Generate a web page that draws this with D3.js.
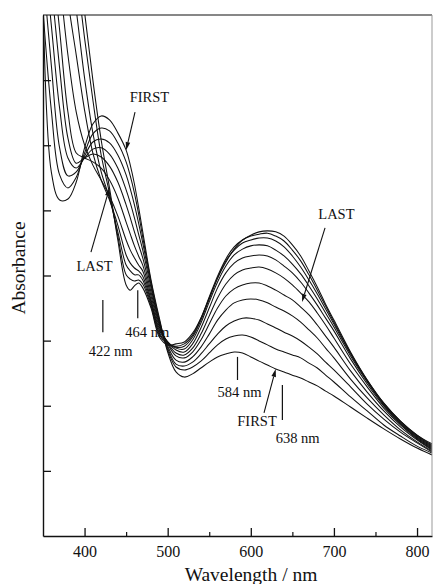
<!DOCTYPE html>
<html>
<head>
<meta charset="utf-8">
<script src="https://cdn.jsdelivr.net/npm/d3@7/dist/d3.min.js"></script>
<style>
  html, body { margin: 0; padding: 0; background: #fff; }
  svg { display: block; }
  text { font-family: "Liberation Serif", "Times New Roman", serif; fill: #111; }
</style>
</head>
<body>
<svg id="chart" width="433" height="584"></svg>
<script>
// Wavelength grid (nm) shared by every scan
const wavelengths = [350,360,370,380,390,400,410,420,430,440,450,455,460,465,470,480,490,500,510,520,530,540,550,560,570,580,590,600,610,620,630,640,650,660,670,680,690,700,720,740,760,780,800,818];

// Absorbance of successive scans, first to last
const scan1  = [1.650,1.118,1.032,1.035,1.087,1.192,1.265,1.290,1.278,1.238,1.185,1.139,1.081,1.010,0.934,0.786,0.669,0.565,0.504,0.488,0.498,0.516,0.534,0.550,0.559,0.565,0.562,0.550,0.537,0.525,0.513,0.504,0.494,0.485,0.473,0.461,0.445,0.430,0.396,0.362,0.329,0.298,0.270,0.249];
const scan2  = [1.615,1.308,1.109,1.069,1.102,1.176,1.235,1.253,1.244,1.207,1.149,1.106,1.053,0.989,0.918,0.780,0.663,0.571,0.519,0.510,0.519,0.537,0.562,0.587,0.605,0.614,0.617,0.611,0.599,0.587,0.574,0.565,0.556,0.547,0.531,0.516,0.494,0.473,0.427,0.384,0.341,0.307,0.276,0.255];
const scan3  = [1.738,1.446,1.192,1.106,1.118,1.167,1.210,1.219,1.207,1.170,1.109,1.066,1.017,0.961,0.900,0.771,0.657,0.577,0.528,0.522,0.534,0.559,0.590,0.620,0.645,0.660,0.669,0.669,0.663,0.651,0.639,0.626,0.614,0.599,0.580,0.559,0.534,0.510,0.458,0.405,0.359,0.319,0.286,0.258];
const scan4  = [1.830,1.569,1.314,1.161,1.130,1.161,1.188,1.192,1.173,1.130,1.063,1.023,0.977,0.927,0.878,0.762,0.654,0.583,0.540,0.534,0.550,0.580,0.620,0.663,0.694,0.716,0.725,0.728,0.725,0.716,0.703,0.691,0.676,0.657,0.633,0.608,0.577,0.547,0.482,0.424,0.372,0.326,0.289,0.261];
const scan5  = [1.922,1.692,1.437,1.222,1.145,1.161,1.173,1.164,1.136,1.087,1.017,0.977,0.934,0.894,0.854,0.749,0.648,0.590,0.553,0.547,0.565,0.602,0.651,0.700,0.737,0.759,0.771,0.777,0.777,0.768,0.755,0.740,0.725,0.703,0.679,0.648,0.614,0.580,0.507,0.442,0.384,0.335,0.295,0.264];
const scan6  = [2.015,1.800,1.554,1.302,1.176,1.161,1.149,1.130,1.093,1.038,0.964,0.927,0.891,0.860,0.832,0.737,0.642,0.593,0.562,0.556,0.577,0.620,0.676,0.731,0.774,0.802,0.817,0.823,0.826,0.820,0.808,0.792,0.771,0.746,0.719,0.685,0.648,0.608,0.528,0.458,0.393,0.341,0.298,0.267];
const scan7  = [2.107,1.922,1.707,1.477,1.302,1.201,1.139,1.093,1.044,0.983,0.909,0.878,0.854,0.832,0.814,0.725,0.636,0.596,0.571,0.565,0.590,0.639,0.700,0.762,0.808,0.838,0.854,0.860,0.863,0.860,0.848,0.829,0.808,0.780,0.746,0.709,0.669,0.630,0.544,0.467,0.399,0.344,0.301,0.270];
const scan8  = [2.199,2.045,1.861,1.646,1.477,1.308,1.176,1.093,1.032,0.955,0.863,0.838,0.823,0.814,0.798,0.719,0.630,0.596,0.577,0.574,0.602,0.654,0.719,0.780,0.829,0.863,0.881,0.891,0.894,0.891,0.878,0.860,0.835,0.805,0.768,0.728,0.685,0.642,0.553,0.473,0.402,0.347,0.304,0.273];
const scan9  = [2.291,2.137,1.984,1.800,1.615,1.407,1.238,1.118,1.038,0.934,0.832,0.814,0.802,0.802,0.786,0.712,0.623,0.593,0.580,0.583,0.611,0.663,0.728,0.792,0.845,0.878,0.900,0.909,0.915,0.915,0.906,0.888,0.860,0.826,0.786,0.743,0.697,0.651,0.559,0.476,0.405,0.350,0.307,0.276];
const scan10 = [2.383,2.230,2.076,1.922,1.738,1.529,1.339,1.170,1.053,0.921,0.802,0.789,0.783,0.786,0.774,0.706,0.617,0.590,0.583,0.590,0.617,0.669,0.734,0.798,0.851,0.888,0.909,0.921,0.927,0.930,0.921,0.906,0.878,0.845,0.802,0.755,0.706,0.657,0.562,0.479,0.408,0.353,0.310,0.279];
const scan11 = [2.475,2.322,2.168,2.015,1.830,1.609,1.400,1.216,1.069,0.909,0.771,0.755,0.768,0.777,0.762,0.700,0.611,0.587,0.590,0.596,0.623,0.669,0.731,0.792,0.841,0.881,0.909,0.924,0.934,0.937,0.934,0.921,0.894,0.860,0.814,0.765,0.712,0.663,0.565,0.479,0.408,0.353,0.310,0.283];

const scans = [scan1, scan2, scan3, scan4, scan5, scan6, scan7, scan8, scan9, scan10, scan11];

// Axis ticks
const xMajorTicks = [400, 500, 600, 700, 800];
const xMinorTicks = [450, 550, 650, 750];
const yTicks = [0.2, 0.4, 0.6, 0.8, 1.0, 1.2, 1.4];

// Band markers and their labels
const bandMarks = [
  { nm: 422, from: 0.725, to: 0.626, label: "422 nm", lx: 405, ly: 0.553 },
  { nm: 464, from: 0.755, to: 0.669, label: "464 nm", lx: 449, ly: 0.611 },
  { nm: 584, from: 0.550, to: 0.479, label: "584 nm", lx: 560, ly: 0.427 },
  { nm: 638, from: 0.464, to: 0.356, label: "638 nm", lx: 630, ly: 0.286 }
];

const svg = d3.select("#chart");
const plotLeft = 43, plotRight = 432, plotTop = 15, plotBottom = 536;

const x = d3.scaleLinear().domain([350, 818]).range([plotLeft, plotRight]);
const y = d3.scaleLinear().domain([0, 1.6]).range([plotBottom, plotTop]);

svg.append("defs").append("clipPath").attr("id", "plotArea")
  .append("rect").attr("x", plotLeft).attr("y", plotTop)
  .attr("width", plotRight - plotLeft).attr("height", plotBottom - plotTop);

// Spectra
const line = d3.line()
  .x((d, i) => x(wavelengths[i]))
  .y(d => y(d))
  .curve(d3.curveCatmullRom.alpha(0.5));

svg.append("g").attr("clip-path", "url(#plotArea)")
  .selectAll("path").data(scans).join("path")
  .attr("d", line)
  .attr("fill", "none")
  .attr("stroke", "#111")
  .attr("stroke-width", 1.05);

// Bottom axis with inward ticks
const xAxis = svg.append("g").attr("transform", `translate(0,${plotBottom})`)
  .call(d3.axisBottom(x).tickValues(xMajorTicks).tickSize(-8).tickSizeOuter(0)
    .tickPadding(10).tickFormat(d3.format("d")));
xAxis.select(".domain").attr("stroke", "#111").attr("stroke-width", 1.4);
xAxis.selectAll(".tick line").attr("stroke", "#111").attr("stroke-width", 1.3);
xAxis.selectAll(".tick text").attr("font-size", 16)
  .attr("font-family", "Liberation Serif, serif").attr("fill", "#111");

svg.append("g").attr("transform", `translate(0,${plotBottom})`)
  .call(d3.axisBottom(x).tickValues(xMinorTicks).tickSize(-4).tickSizeOuter(0).tickFormat(""))
  .call(g => g.select(".domain").remove())
  .selectAll(".tick line").attr("stroke", "#111").attr("stroke-width", 1.2);

// Left axis, ticks only
const yAxis = svg.append("g").attr("transform", `translate(${plotLeft},0)`)
  .call(d3.axisLeft(y).tickValues(yTicks).tickSize(-8).tickSizeOuter(0).tickFormat(""));
yAxis.select(".domain").attr("stroke", "#111").attr("stroke-width", 1.4);
yAxis.selectAll(".tick line").attr("stroke", "#111").attr("stroke-width", 1.3);

// Top and right frame
svg.append("line").attr("x1", plotLeft).attr("x2", plotRight).attr("y1", plotTop).attr("y2", plotTop)
  .attr("stroke", "#111").attr("stroke-width", 1.2);
svg.append("line").attr("x1", plotRight).attr("x2", plotRight).attr("y1", plotTop).attr("y2", plotBottom)
  .attr("stroke", "#999").attr("stroke-width", 1);

// Axis titles
svg.append("text").attr("x", 251).attr("y", 581).attr("text-anchor", "middle")
  .attr("font-size", 19.5).text("Wavelength / nm");
svg.append("text").attr("transform", "translate(25,268) rotate(-90)")
  .attr("text-anchor", "middle").attr("font-size", 19.5).text("Absorbance");

// Band markers
const marks = svg.append("g");
bandMarks.forEach(m => {
  marks.append("line").attr("x1", x(m.nm)).attr("x2", x(m.nm))
    .attr("y1", y(m.from)).attr("y2", y(m.to))
    .attr("stroke", "#111").attr("stroke-width", 1.2);
  marks.append("text").attr("x", x(m.lx)).attr("y", y(m.ly))
    .attr("font-size", 14.5).text(m.label);
});

// Arrows with labels
function arrow(x1, y1, x2, y2) {
  const ang = Math.atan2(y2 - y1, x2 - x1);
  const len = 8, half = 2.3;
  const bx = x2 - len * Math.cos(ang), by = y2 - len * Math.sin(ang);
  svg.append("line").attr("x1", x1).attr("y1", y1).attr("x2", bx).attr("y2", by)
    .attr("stroke", "#111").attr("stroke-width", 1.1);
  svg.append("path")
    .attr("d", `M${x2},${y2}L${bx - half * Math.sin(ang)},${by + half * Math.cos(ang)}L${bx + half * Math.sin(ang)},${by - half * Math.cos(ang)}Z`)
    .attr("fill", "#111");
}
const at = (scan, nm) => y(scan[wavelengths.indexOf(nm)]);

svg.append("text").attr("x", x(478)).attr("y", y(1.333)).attr("text-anchor", "middle")
  .attr("font-size", 14.5).text("FIRST");
arrow(x(460.7), y(1.302), x(450), at(scan1, 450));

svg.append("text").attr("x", x(412)).attr("y", y(0.814)).attr("text-anchor", "middle")
  .attr("font-size", 14.5).text("LAST");
arrow(x(407.7), y(0.872), x(430), at(scan11, 430));

svg.append("text").attr("x", x(703)).attr("y", y(0.974)).attr("text-anchor", "middle")
  .attr("font-size", 14.5).text("LAST");
arrow(x(689.3), y(0.946), x(661.6), y(0.719));

svg.append("text").attr("x", x(607.5)).attr("y", y(0.338)).attr("text-anchor", "middle")
  .attr("font-size", 14.5).text("FIRST");
arrow(x(615.9), y(0.378), x(630), at(scan1, 630));
</script>
</body>
</html>
